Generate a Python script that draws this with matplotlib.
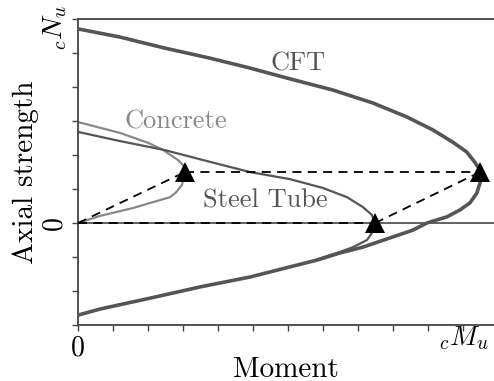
import matplotlib
matplotlib.use("Agg")
import matplotlib.pyplot as plt

plt.rcParams["font.family"] = ["cmr10", "DejaVu Serif"]
plt.rcParams["mathtext.fontset"] = "cm"
plt.rcParams["axes.formatter.use_mathtext"] = True

# Interaction curves (moment, axial strength) in tick units
cft_m = [0.0, 1.20, 2.46, 3.77, 4.91, 6.06, 7.29, 8.43, 9.40, 10.14,
         10.71, 11.11, 11.34, 11.49, 11.51, 11.49, 11.40, 11.20, 10.91,
         10.54, 9.97, 9.57, 8.91, 8.14, 7.49, 6.83, 6.06, 4.91, 3.49,
         2.06, 0.63, 0.0]
cft_n = [5.71, 5.47, 5.15, 4.85, 4.56, 4.24, 3.91, 3.53, 3.12, 2.74,
         2.38, 2.09, 1.79, 1.56, 1.35, 1.18, 0.88, 0.59, 0.38,
         0.18, 0.0, -0.21, -0.44, -0.71, -0.88, -1.09, -1.29, -1.59, -1.88,
         -2.21, -2.53, -2.71]

steel_m = [0.0, 1.20, 2.46, 3.77, 4.91, 6.06, 7.00, 7.69, 8.14, 8.40,
           8.49, 8.40, 8.26, 7.86, 7.49, 6.83]
steel_n = [2.68, 2.41, 2.15, 1.80, 1.50, 1.29, 1.03, 0.76, 0.47, 0.24,
           0.0, -0.29, -0.50, -0.71, -0.85, -1.07]

concrete_m = [0.0, 1.20, 2.00, 2.43, 2.86, 3.02, 3.06, 2.97, 2.80, 2.63,
              2.06, 1.57, 0.63, 0.0]
concrete_n = [2.97, 2.65, 2.36, 2.15, 1.85, 1.68, 1.50, 1.12, 0.90, 0.76,
              0.59, 0.44, 0.21, 0.0]

# Key points marked with triangles
key_m = [3.06, 8.49, 11.49]
key_n = [1.50, 0.0, 1.50]

x_ticks = list(range(0, 12))
x_labels = ["0"] + [""] * 11
y_ticks = list(range(-3, 7))
y_labels = ["", "", "", "0", "", "", "", "", "", ""]

dark = "#555555"
light = "#888888"

fig = plt.figure(figsize=(4.94, 3.81), dpi=100)
ax = fig.add_axes([0.158, 0.147, 0.842, 0.803])

ax.axhline(0, color=dark, lw=1.3, zorder=1)

ax.plot(concrete_m, concrete_n, color=light, lw=1.6, zorder=2)
ax.plot(steel_m, steel_n, color=dark, lw=1.6, zorder=2)
ax.plot(cft_m, cft_n, color=dark, lw=2.6, zorder=3, solid_joinstyle="round")

dash = dict(color="black", lw=1.3, ls=(0, (5, 3.5)), zorder=4)
ax.plot([0, key_m[0]], [0, key_n[0]], **dash)
ax.plot([key_m[0], key_m[2]], [key_n[0], key_n[2]], **dash)
ax.plot([0, key_m[1]], [0, key_n[1]], **dash)
ax.plot([key_m[1], key_m[2]], [key_n[1], key_n[2]], **dash)

ax.plot(key_m, key_n, ls="none", marker="^", ms=14, color="black",
        markeredgewidth=0, zorder=5)

ax.text(6.29, 4.7, "CFT", color=dark, fontsize=19, ha="center", va="center")
ax.text(2.8, 2.98, "Concrete", color=light, fontsize=19, ha="center", va="center")
ax.text(5.34, 0.67, "Steel Tube", color=dark, fontsize=19, ha="center", va="center")

ax.set_xlim(0, 11.89)
ax.set_ylim(-3, 6)
ax.set_xticks(x_ticks)
ax.set_xticklabels(x_labels, fontsize=20)
ax.set_yticks(y_ticks)
ax.set_yticklabels(y_labels, fontsize=20, rotation=90, va="center")

# End-of-axis labels
ax.text(10.3, -3.38, r"${}_{c}M_{u}$", fontsize=20, ha="left", va="center",
        clip_on=False)
ax.text(-0.66, 5.74, r"${}_{c}N_{u}$", fontsize=20, ha="center", va="center",
        rotation=90, clip_on=False)

for side in ("left", "bottom", "top"):
    ax.spines[side].set_color("#444444")
    ax.spines[side].set_linewidth(1.3)
ax.spines["right"].set_visible(False)
ax.tick_params(direction="out", length=4.5, width=1.0, color="#444444",
               labelcolor="black", pad=3)

ax.set_xlabel("Moment", fontsize=21, labelpad=-4)
ax.set_ylabel("Axial strength", fontsize=21, labelpad=2)

fig.savefig("out.png", dpi=100)
